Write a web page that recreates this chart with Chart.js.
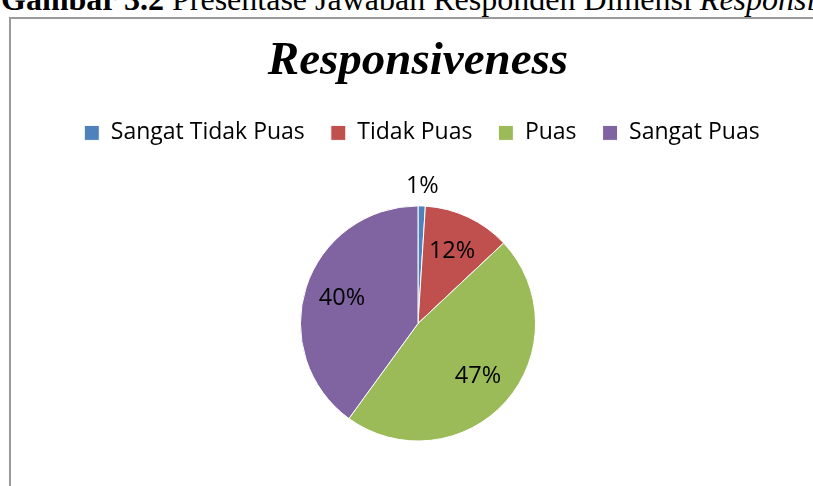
<!DOCTYPE html>
<html>
<head>
<meta charset="utf-8">
<script src="https://cdn.jsdelivr.net/npm/chart.js@4/dist/chart.umd.min.js"></script>
<style>
  body { margin: 0; background: #fff; overflow: hidden; width: 813px; height: 486px; position: relative; }
  #caption { position: absolute; left: 1px; top: -17px; font-family: "Liberation Serif", "Times New Roman", serif; font-size: 32px; line-height: 32px; white-space: nowrap; color: #000; }
  #frame { position: absolute; left: 9px; top: 17px; width: 900px; height: 600px; border: 2px solid #9a9a9a; }
  #myPie { position: absolute; left: 11px; top: 19px; }
</style>
</head>
<body>
<div id="caption"><b>Gambar 3.2</b> Presentase Jawaban Responden Dimensi <i>Responsiveness</i></div>
<div id="frame"></div>
<canvas id="myPie" width="814" height="470"></canvas>
<script>
// data grafik
var judul = "Responsiveness";
var kategori = ["Sangat Tidak Puas", "Tidak Puas", "Puas", "Sangat Puas"];
var persen = [1, 12, 47, 40];
var warna = ["#4F81BD", "#C0504D", "#9BBB59", "#8064A2"];

// label persen di dalam / luar potongan
var labelPersen = {
  id: "labelPersen",
  afterDatasetsDraw: function(chart) {
    var ctx = chart.ctx;
    var meta = chart.getDatasetMeta(0);
    ctx.save();
    ctx.font = "23.5px 'Open Sans'";
    ctx.fillStyle = "#000";
    ctx.textAlign = "center";
    ctx.textBaseline = "middle";
    meta.data.forEach(function(arc, i) {
      var p = arc.getProps(["x", "y", "startAngle", "endAngle", "outerRadius"], true);
      var mid = (p.startAngle + p.endAngle) / 2;
      var r = persen[i] < 5 ? p.outerRadius + 20 : p.outerRadius * 0.68;
      ctx.fillText(persen[i] + "%", p.x + Math.cos(mid) * r, p.y + Math.sin(mid) * r);
    });
    ctx.restore();
  }
};

// jarak legend ke pie + geser sedikit ke kanan
var legendAyar = {
  id: "legendAyar",
  beforeInit: function(chart) {
    var fit = chart.legend.fit;
    chart.legend.fit = function() {
      fit.bind(chart.legend)();
      this.height += 51;
    };
    var draw = chart.legend.draw;
    chart.legend.draw = function() {
      chart.ctx.save();
      chart.ctx.translate(4, 0);
      draw.apply(this, arguments);
      chart.ctx.restore();
    };
  }
};

new Chart(document.getElementById("myPie"), {
  type: "pie",
  data: {
    labels: kategori,
    datasets: [{
      data: persen,
      backgroundColor: warna,
      borderColor: "#ffffff",
      borderWidth: 1
    }]
  },
  options: {
    responsive: false,
    animation: false,
    layout: { padding: { top: 0, left: 0, right: 0, bottom: 47.5 } },
    plugins: {
      title: {
        display: true,
        text: judul,
        color: "#000",
        padding: { top: 15, bottom: 5 },
        font: { family: "'Liberation Serif', 'Times New Roman', serif", size: 47, style: "italic", weight: "bold" }
      },
      legend: {
        display: true,
        position: "top",
        labels: {
          color: "#000",
          boxWidth: 15,
          boxHeight: 15,
          padding: 26,
          font: { family: "'Open Sans'", size: 23 }
        }
      },
      tooltip: { enabled: false }
    }
  },
  plugins: [labelPersen, legendAyar]
});
</script>
</body>
</html>
